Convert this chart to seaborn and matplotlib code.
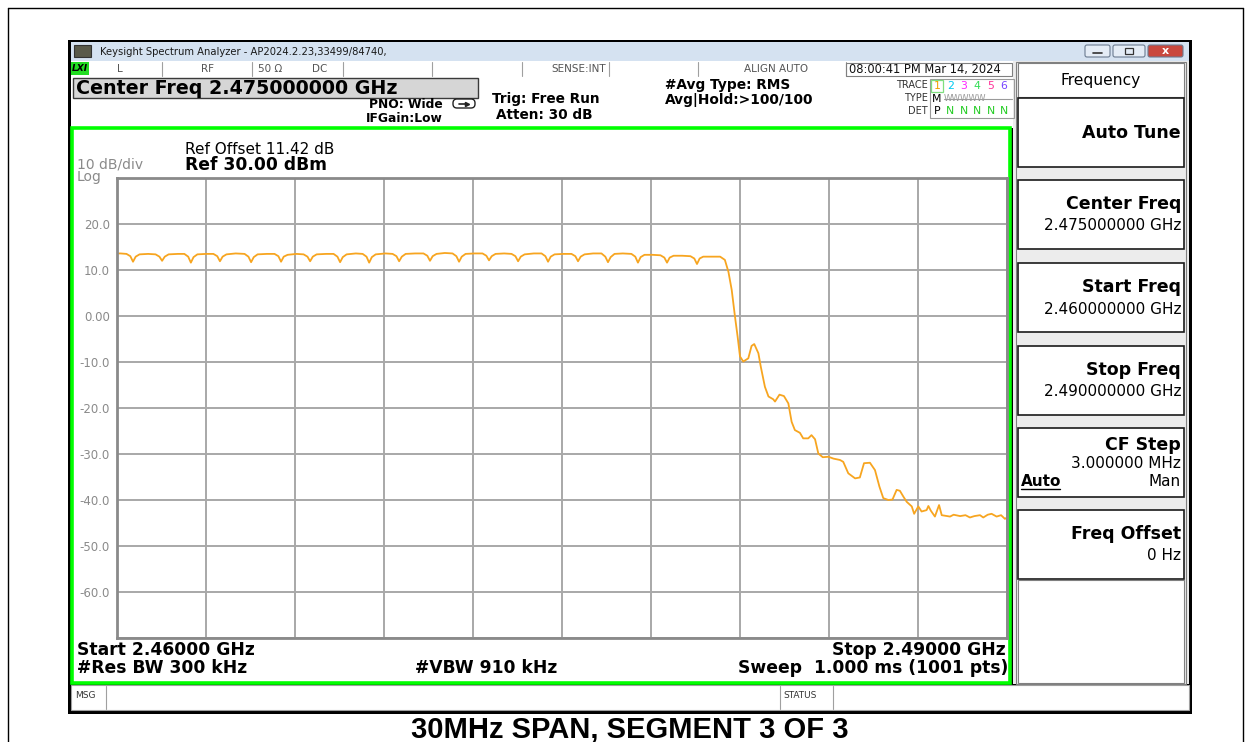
import numpy as np
import pandas as pd
import seaborn as sns
import matplotlib.pyplot as plt
from matplotlib.patches import Rectangle, FancyBboxPatch

# trace 1: offset from start freq (MHz) and level (dBm)
freq_offset_mhz = [
    0.00, 0.12,
    0.32, 0.45, 0.54, 0.63, 0.76, 1.05,
    1.30, 1.43, 1.52, 1.61, 1.74, 2.05,
    2.27, 2.40, 2.49, 2.58, 2.71, 3.00,
    3.25, 3.38, 3.47, 3.56, 3.69, 4.00,
    4.30, 4.43, 4.52, 4.61, 4.74, 5.05,
    5.31, 5.44, 5.53, 5.62, 5.75, 6.05,
    6.29, 6.42, 6.51, 6.60, 6.73, 7.05,
    7.30, 7.43, 7.52, 7.61, 7.74, 8.05,
    8.28, 8.41, 8.50, 8.59, 8.72, 9.05,
    9.29, 9.42, 9.51, 9.60, 9.73, 10.05,
    10.33, 10.46, 10.55, 10.64, 10.77, 11.05,
    11.31, 11.44, 11.53, 11.62, 11.75, 12.05,
    12.32, 12.45, 12.54, 12.63, 12.76, 13.05,
    13.30, 13.43, 13.52, 13.61, 13.74, 14.05,
    14.31, 14.44, 14.53, 14.62, 14.75, 15.05,
    15.32, 15.45, 15.54, 15.63, 15.76, 16.05,
    16.33, 16.46, 16.55, 16.64, 16.77, 17.05,
    17.34, 17.47, 17.56, 17.65, 17.78, 18.05,
    18.32, 18.45, 18.54, 18.63, 18.76, 19.05,
    19.33, 19.46, 19.55, 19.64, 19.76, 20.05,
    20.33, 20.49, 20.61, 20.72, 20.83, 20.92, 21.00, 21.11,
    21.28, 21.39, 21.48, 21.62, 21.70, 21.84, 21.96, 22.12,
    22.18, 22.33, 22.48, 22.63, 22.74, 22.85, 23.02, 23.13,
    23.30, 23.41, 23.53, 23.64, 23.79, 23.98, 24.15, 24.37,
    24.48, 24.65, 24.88, 25.04, 25.18, 25.38, 25.55, 25.70,
    25.83, 26.00, 26.14, 26.28, 26.39, 26.51, 26.62, 26.79,
    26.87, 27.01, 27.12, 27.29, 27.35, 27.43, 27.57, 27.71,
    27.80, 28.08, 28.20, 28.42, 28.60, 28.75, 28.90, 29.09,
    29.20, 29.35, 29.48, 29.65, 29.80, 29.93, 30.00,
]
level_dbm = [
    13.6, 13.6,
    13.5, 13.0, 11.8, 12.9, 13.4, 13.5,
    13.4, 12.9, 12.0, 12.9, 13.4, 13.5,
    13.5, 12.9, 11.6, 12.8, 13.4, 13.5,
    13.5, 13.0, 11.9, 12.9, 13.4, 13.6,
    13.5, 12.9, 11.7, 12.8, 13.4, 13.5,
    13.5, 13.0, 11.8, 12.9, 13.3, 13.5,
    13.4, 12.9, 11.9, 12.9, 13.4, 13.5,
    13.5, 12.9, 11.7, 12.8, 13.4, 13.6,
    13.5, 12.9, 11.6, 12.8, 13.4, 13.6,
    13.5, 13.0, 11.9, 12.9, 13.5, 13.6,
    13.6, 13.1, 12.0, 13.0, 13.5, 13.7,
    13.6, 13.0, 11.8, 12.9, 13.5, 13.6,
    13.6, 13.1, 12.1, 13.0, 13.5, 13.6,
    13.5, 13.0, 11.9, 12.9, 13.4, 13.6,
    13.6, 13.0, 11.8, 12.9, 13.4, 13.5,
    13.5, 13.0, 11.9, 12.9, 13.4, 13.6,
    13.6, 12.9, 11.7, 12.8, 13.5, 13.6,
    13.5, 12.9, 11.6, 12.8, 13.3, 13.3,
    13.2, 12.7, 11.6, 12.7, 13.1, 13.1,
    13.0, 12.5, 11.3, 12.5, 12.9, 12.9,
    12.9, 12.2, 9.6, 5.7, -0.1, -4.5, -8.8, -9.9,
    -9.2, -6.5, -6.1, -8.1, -11.0, -15.4, -17.5, -18.1,
    -18.6, -17.1, -17.4, -19.0, -23.0, -24.8, -25.4, -26.6,
    -26.6, -25.9, -26.8, -29.9, -30.7, -30.6, -31.0, -31.3,
    -31.7, -34.2, -35.3, -35.1, -32.0, -31.9, -33.5, -37.1,
    -39.6, -40.0, -39.9, -37.8, -38.0, -39.3, -40.4, -41.4,
    -43.0, -41.4, -42.5, -42.2, -41.3, -42.3, -43.6, -41.1,
    -43.3, -43.6, -43.2, -43.5, -43.3, -43.8, -43.5, -43.3,
    -43.8, -43.2, -43.0, -43.6, -43.3, -44.1, -43.8,
]

start_ghz = 2.46
stop_ghz = 2.49
ref_dbm = 30.0
db_div = 10
ytick_labels = ["", "20.0", "10.0", "0.00", "-10.0", "-20.0", "-30.0",
                "-40.0", "-50.0", "-60.0", ""]

# softkey title, value lines
softkeys = [
    ("Auto Tune", []),
    ("Center Freq", ["2.475000000 GHz"]),
    ("Start Freq", ["2.460000000 GHz"]),
    ("Stop Freq", ["2.490000000 GHz"]),
    ("CF Step", ["3.000000 MHz", "Man"]),
    ("Freq Offset", ["0 Hz"]),
]

sns.set_theme(style="white")
plt.rcParams["font.family"] = ["DejaVu Sans"]

W, H = 1251, 742
fig = plt.figure(figsize=(W / 100, H / 100), dpi=100)
fig.patch.set_facecolor("white")

# pixel canvas for the screen furniture
bg = fig.add_axes([0, 0, 1, 1])
bg.set_xlim(0, W)
bg.set_ylim(H, 0)
bg.axis("off")


def box(x0, y0, x1, y1, fc="white", ec="none", lw=1.0, z=1):
    bg.add_patch(Rectangle((x0, y0), x1 - x0, y1 - y0, facecolor=fc,
                           edgecolor=ec, linewidth=lw, zorder=z))


def txt(x, y, s, size=9, weight="normal", ha="left", color="black", **kw):
    bg.text(x, y, s, fontsize=size, fontweight=weight, ha=ha, va="center",
            color=color, zorder=10, **kw)


# page border
bg.plot([8, 8], [8, H], color="black", lw=1)
bg.plot([1243, 1243], [8, H], color="black", lw=1)
bg.plot([8, 1243], [8, 8], color="black", lw=1)

# window frame + title bar
box(68, 40, 1192, 714, fc="black")
box(71, 42, 1189, 61, fc="#d5e2f1")
box(74, 45, 91, 57, fc="#5a5a4a", ec="#333333", lw=0.8, z=2)
txt(100, 52, "Keysight Spectrum Analyzer - AP2024.2.23,33499/84740,", size=7.2, color="#1a1a1a")
for x0, x1, fc in [(1085, 1110, "#e4ecf6"), (1113, 1145, "#e4ecf6"), (1148, 1183, "#c9473d")]:
    bg.add_patch(FancyBboxPatch((x0, 45), x1 - x0, 12, boxstyle="round,pad=0,rounding_size=2",
                                facecolor=fc, edgecolor="#6b7b90", lw=0.8, zorder=2))
bg.plot([1093, 1102], [53, 53], color="#333333", lw=1.2, zorder=3)
box(1125, 48, 1133, 54, fc="none", ec="#333333", lw=0.9, z=3)
txt(1165.5, 51, "x", size=8, weight="bold", ha="center", color="white")

# status row
box(71, 61, 1014, 77, fc="white")
for x in [162, 252, 343, 432, 522, 609, 698, 846]:
    bg.plot([x, x], [62, 76], color="#a0a0a0", lw=0.8, zorder=2)
box(846, 63, 1012, 76, fc="none", ec="#808080", lw=0.8, z=2)
box(71, 62, 89, 75, fc="#22dd22", z=2)
txt(80, 68.5, "LXI", size=6.5, weight="bold", ha="center", style="italic")
for x, s in [(120, "L"), (208, "RF"), (270, "50 Ω"), (320, "DC"), (776, "ALIGN AUTO")]:
    txt(x, 69, s, size=7.5, ha="center", color="#555555")
txt(606, 69, "SENSE:INT", size=7.5, ha="right", color="#555555")
txt(849, 69, "08:00:41 PM Mar 14, 2024", size=8.3, color="#111111")

# header block
box(71, 77, 1014, 128, fc="white")
box(73, 78, 478, 98, fc="#d6d6d6", ec="#3a3a3a", lw=1, z=2)
txt(76, 88.5, "Center Freq 2.475000000 GHz", size=13.7, weight="bold")
txt(443, 104, "PNO: Wide", size=8.8, weight="bold", ha="right")
txt(443, 118, "IFGain:Low", size=8.8, weight="bold", ha="right")
bg.add_patch(FancyBboxPatch((453, 99), 22, 9, boxstyle="round,pad=0,rounding_size=4",
                            facecolor="white", edgecolor="#222222", lw=1, zorder=2))
bg.plot([459, 467], [104, 104], color="#222222", lw=1.2, zorder=3)
bg.plot([467], [104], marker=">", color="#222222", ms=3, zorder=3)
txt(492, 99, "Trig: Free Run", size=9.8, weight="bold")
txt(496, 115, "Atten: 30 dB", size=9.8, weight="bold")
txt(665, 85, "#Avg Type: RMS", size=9.9, weight="bold")
txt(665, 100, "Avg|Hold:>100/100", size=9.9, weight="bold")
for y, s in [(85, "TRACE"), (98, "TYPE"), (111, "DET")]:
    txt(928, y, s, size=7, ha="right", color="#333333")
box(930, 79, 1014, 118, fc="none", ec="#9a9a9a", lw=0.8, z=2)
box(931, 80, 943, 92, fc="none", ec="#7fdf7f", lw=0.9, z=3)
trace_cols = ["#f0a000", "#00c8f0", "#ff22ff", "#33dd55", "#ff3399", "#7744ff"]
for i, c in enumerate(trace_cols):
    txt(937 + 13.4 * i, 86, str(i + 1), size=7.8, ha="center", color=c)
txt(937, 98.5, "M", size=7.8, ha="center")
txt(944, 98.5, "WWWWW", size=6.2, color="#9a9a9a")
bg.plot([944, 1012], [98.5, 98.5], color="#9a9a9a", lw=0.8, zorder=11)
txt(937, 111, "P", size=7.8, ha="center")
for i in range(5):
    txt(950.4 + 13.4 * i, 111, "N", size=7.8, ha="center", color="#22cc22")

# green graticule panel
box(72, 128, 1010, 683, fc="white", ec="#00ff00", lw=2.6, z=2)
txt(185, 149, "Ref Offset 11.42 dB", size=11)
txt(185, 165, "Ref 30.00 dBm", size=12.3, weight="bold")
txt(77, 165, "10 dB/div", size=10, color="#8a8a8a")
txt(77, 177, "Log", size=10, color="#8a8a8a")
txt(77, 650, "Start 2.46000 GHz", size=12.3, weight="bold")
txt(77, 668, "#Res BW 300 kHz", size=12.3, weight="bold")
txt(415, 668, "#VBW 910 kHz", size=12.3, weight="bold")
txt(1006, 650, "Stop 2.49000 GHz", size=12.3, weight="bold", ha="right")
txt(1008, 668, "Sweep  1.000 ms (1001 pts)", size=12.3, weight="bold", ha="right")

# message bar
box(71, 685, 1189, 710, fc="white", ec="#a0a0a0", lw=0.8)
bg.plot([106, 106], [686, 709], color="#a0a0a0", lw=0.8, zorder=2)
bg.plot([780, 780], [686, 709], color="#a0a0a0", lw=0.8, zorder=2)
bg.plot([833, 833], [686, 709], color="#a0a0a0", lw=0.8, zorder=2)
txt(75, 696, "MSG", size=6.5, color="#333333")
txt(783, 696, "STATUS", size=6.5, color="#333333")

# softkey column
box(1013, 61, 1189, 684, fc="#ececec")
box(1016, 62, 1186, 684, fc="#ececec", ec="#808080", lw=0.8)
box(1018, 63, 1184, 97, fc="white", ec="#808080", lw=0.8, z=2)
txt(1101, 80, "Frequency", size=11.2, ha="center")
key_tops = [98, 180, 263, 346, 428, 510]
for (title, lines), top in zip(softkeys, key_tops):
    box(1018, top, 1184, top + 69, fc="white", ec="#1a1a1a", lw=1.2, z=2)
    if not lines:
        txt(1181, top + 35, title, size=12.5, weight="bold", ha="right")
    elif len(lines) == 1:
        txt(1181, top + 24, title, size=12.5, weight="bold", ha="right")
        txt(1181, top + 46, lines[0], size=11, ha="right")
    else:
        txt(1181, top + 17, title, size=12.5, weight="bold", ha="right")
        txt(1181, top + 35, lines[0], size=11, ha="right")
        txt(1181, top + 53, lines[1], size=11, ha="right")
        txt(1021, top + 53, "Auto", size=11, weight="bold")
        bg.plot([1021, 1060], [top + 61, top + 61], color="black", lw=1, zorder=11)
box(1018, 580, 1184, 683, fc="white", ec="#808080", lw=0.8, z=2)

# caption under the screenshot
bg.text(630, 729, "30MHz SPAN, SEGMENT 3 OF 3", fontsize=21, fontweight="bold",
        family="Liberation Sans", ha="center", va="center", color="black")

# trace axes
ax = fig.add_axes([117 / W, 1 - 638 / H, 890 / W, 460 / H], zorder=5)
ax.set_facecolor("white")
df = pd.DataFrame({"freq_ghz": start_ghz + np.array(freq_offset_mhz) / 1000.0,
                   "level_dbm": level_dbm})
sns.lineplot(data=df, x="freq_ghz", y="level_dbm", ax=ax, color="#f7a520",
             lw=1.3, errorbar=None)
ax.set_xlim(start_ghz, stop_ghz)
ax.set_ylim(ref_dbm - 10 * db_div, ref_dbm)
ax.set_xticks(np.linspace(start_ghz, stop_ghz, 11))
ax.set_yticks(np.arange(ref_dbm - 10 * db_div, ref_dbm + 1, db_div))
ax.set_yticklabels(ytick_labels[::-1])
ax.grid(True, color="#a8a8a8", lw=1.4)
ax.set_axisbelow(True)
ax.tick_params(length=0, labelbottom=False, labelsize=8.5, labelcolor="#8a8a8a", pad=5)
ax.set_xlabel("")
ax.set_ylabel("")
for sp in ax.spines.values():
    sp.set_color("#8a8a8a")
    sp.set_linewidth(2)

fig.savefig("out.png", dpi=100)
